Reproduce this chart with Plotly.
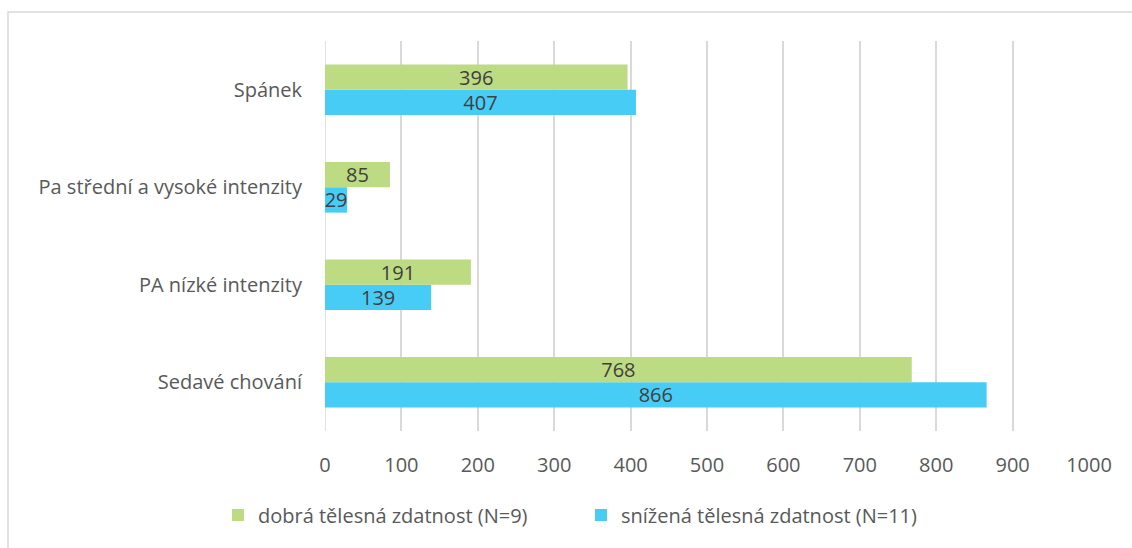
import plotly.graph_objects as go

categories = ["Sedavé chování", "PA nízké intenzity", "Pa střední a vysoké intenzity", "Spánek"]
good_values = [768, 191, 85, 396]
reduced_values = [866, 139, 29, 407]
series_names = ["dobrá tělesná zdatnost (N=9)", "snížená tělesná zdatnost (N=11)"]
tick_vals = [0, 100, 200, 300, 400, 500, 600, 700, 800, 900, 1000]

GREEN = "#BDDB82"
BLUE = "#47CCF6"
TXT = "#595959"
FONT = "Open Sans"

fig = go.Figure()
# Plotly draws the first trace of a horizontal group at the bottom; add reduced first so green sits on top
for vals, name, col in [(reduced_values, series_names[1], BLUE), (good_values, series_names[0], GREEN)]:
    fig.add_trace(go.Bar(
        y=categories, x=vals, orientation="h", name=name,
        marker=dict(color=col, line=dict(width=0)),
        text=vals, textposition="inside", insidetextanchor="middle", textangle=0,
        constraintext="none", textfont=dict(color="#404040", size=20, family=FONT),
        cliponaxis=False,
    ))

fig.update_layout(
    width=1132, height=548,
    margin=dict(l=325, r=43, t=41, b=117),
    paper_bgcolor="white", plot_bgcolor="white",
    barmode="group", bargap=0.48, bargroupgap=0,
    font=dict(family=FONT, color=TXT, size=19),
    showlegend=True,
    legend=dict(orientation="h", x=(218 - 325) / 764, xanchor="left",
                y=(431 - 515) / 390, yanchor="middle",
                traceorder="reversed", font=dict(size=20, color=TXT, family=FONT),
                itemwidth=30, entrywidth=318),
    xaxis=dict(range=[0, 1000], tickvals=tick_vals, showgrid=True, gridcolor="#D9D9D9",
               gridwidth=1.5, zeroline=False, showline=False, ticks="",
               tickfont=dict(size=20, color=TXT), ticklabelstandoff=20),
    yaxis=dict(showgrid=False, zeroline=False, showline=False, ticks="",
               tickfont=dict(size=20, color=TXT), ticklabelstandoff=22),
    shapes=[dict(type="rect", xref="paper", yref="paper",
                 x0=(8 - 325) / 764, x1=1.2, y0=-0.6, y1=1 + (41 - 12) / 390,
                 line=dict(color="#D9D9D9", width=1.5), layer="below")],
)
fig.add_shape(type="line", xref="x", yref="paper", x0=0, x1=0, y0=0, y1=1,
              line=dict(color="#D9D9D9", width=1.5), layer="below")

fig.write_html("out.html")
